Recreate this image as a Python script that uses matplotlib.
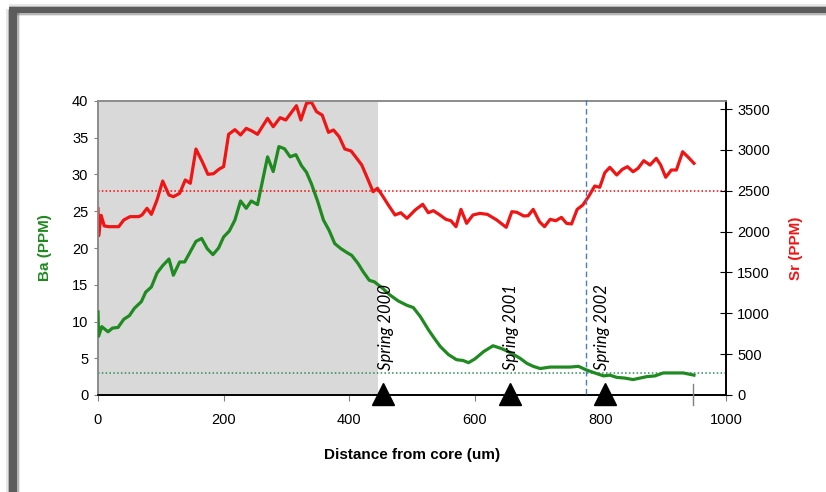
import matplotlib
matplotlib.use("Agg")
import matplotlib.pyplot as plt
from matplotlib.lines import Line2D

# Ba / Sr transect
ba_dist = [0, 1, 6, 16, 23, 32, 41, 50, 58, 69, 76, 85, 94, 103, 113, 120, 130, 138,
           147, 156, 165, 174, 183, 192, 200, 209, 218, 227, 236, 244, 254, 270, 279,
           288, 297, 306, 315, 324, 332, 340, 350, 359, 368, 377, 387, 396, 404, 414,
           422, 432, 440, 452, 465, 478, 492, 502, 513, 526, 534, 545, 558, 571, 581,
           590, 600, 614, 629, 643, 656, 672, 683, 693, 704, 720, 735, 752, 765, 778,
           791, 805, 815, 826, 839, 852, 863, 874, 887, 900, 916, 932, 949]
ba_ppm = [11.3, 8.0, 9.3, 8.6, 9.1, 9.2, 10.3, 10.8, 11.8, 12.7, 14.0, 14.7, 16.6, 17.6,
          18.5, 16.3, 18.1, 18.1, 19.5, 20.9, 21.3, 19.9, 19.1, 20.0, 21.5, 22.3, 23.8,
          26.4, 25.4, 26.4, 25.9, 32.4, 30.4, 33.8, 33.5, 32.4, 32.7, 31.2, 30.3, 28.7,
          26.3, 23.8, 22.4, 20.6, 19.9, 19.4, 19.0, 17.9, 16.8, 15.6, 15.4, 14.6, 13.6,
          12.8, 12.2, 11.9, 10.7, 8.9, 7.9, 6.6, 5.5, 4.8, 4.7, 4.4, 4.9, 5.9, 6.7, 6.3,
          5.8, 5.0, 4.3, 3.9, 3.6, 3.8, 3.8, 3.8, 3.9, 3.4, 3.0, 2.6, 2.7, 2.4, 2.3, 2.1,
          2.3, 2.5, 2.6, 3.0, 3.0, 3.0, 2.7]

sr_dist = [0, 1, 5, 10, 17, 33, 41, 51, 65, 70, 78, 85, 94, 103, 113, 120, 130, 139,
           147, 156, 166, 175, 184, 193, 200, 208, 218, 227, 236, 245, 254, 270, 279,
           290, 299, 316, 323, 332, 340, 348, 357, 367, 375, 384, 393, 403, 412, 420,
           428, 438, 445, 454, 462, 473, 482, 492, 505, 517, 526, 534, 543, 554, 562,
           570, 578, 587, 597, 608, 620, 635, 650, 659, 667, 678, 685, 693, 703, 711,
           720, 729, 738, 746, 754, 763, 772, 781, 791, 799, 807, 815, 826, 835, 843,
           852, 860, 869, 879, 889, 896, 904, 913, 921, 931, 940, 949]
sr_ppm = [2280, 1950, 2200, 2070, 2061, 2061, 2143, 2184, 2184, 2204, 2286, 2212, 2388,
          2620, 2449, 2428, 2469, 2633, 2592, 3012, 2857, 2702, 2710, 2767, 2796, 3192,
          3249, 3184, 3265, 3233, 3192, 3388, 3285, 3396, 3367, 3543, 3367, 3572, 3584,
          3469, 3428, 3216, 3245, 3163, 3012, 2988, 2898, 2816, 2673, 2489, 2531, 2428,
          2330, 2204, 2232, 2163, 2265, 2335, 2232, 2257, 2212, 2151, 2134, 2061, 2273,
          2102, 2204, 2224, 2212, 2143, 2053, 2245, 2237, 2192, 2196, 2273, 2122, 2061,
          2151, 2134, 2175, 2102, 2094, 2273, 2326, 2428, 2559, 2543, 2722, 2788, 2694,
          2763, 2796, 2734, 2776, 2869, 2816, 2898, 2816, 2666, 2755, 2755, 2979, 2910,
          2837]

spring_labels = ["Spring 2000", "Spring 2001", "Spring 2002"]
spring_label_x = [459, 658, 802]
spring_marks = [454, 656, 807]
core_zone_end = 446
ba_background = 3
sr_background = 2500
boundary_x = 777
last_sample = 947

GREEN = "#1f8a1f"
RED = "#f01515"
plt.rcParams["font.family"] = ["Liberation Sans", "DejaVu Sans"]

fig = plt.figure(figsize=(8.26, 4.92), dpi=100)
W, H = 826, 492

# shadowed frame around the chart (only left and top edges are visible)
for lw, alpha in [(14, 0.15), (11, 0.35), (8, 1.0)]:
    fig.add_artist(Line2D([12.5 / W, 12.5 / W], [-0.1, (H - 9) / H], transform=fig.transFigure,
                          color="#5c5c5c", lw=lw * 0.72, alpha=alpha, solid_capstyle="butt"))
    fig.add_artist(Line2D([8.5 / W, 1.1], [(H - 10) / H, (H - 10) / H], transform=fig.transFigure,
                          color="#5c5c5c", lw=(lw - 2) * 0.72, alpha=alpha, solid_capstyle="butt"))

ax = fig.add_axes([98 / W, 97 / H, 628 / W, 294 / H])
ax2 = ax.twinx()
ax.set_zorder(ax2.get_zorder() + 1)
ax.patch.set_visible(False)

# shading + Sr live on the lower axes, Ba and the markers on top
ax2.axvspan(0, core_zone_end, color="#d9d9d9", lw=0, zorder=0)
ax2.axhline(sr_background, color="#ff0000", ls=(0, (1, 1.5)), lw=1.1, zorder=1)
ax2.plot(sr_dist, sr_ppm, color=RED, lw=2.3, zorder=3)

ax.axhline(ba_background, color="#2e8b57", ls=(0, (1, 1.5)), lw=1.1, zorder=1)
ax.plot(ba_dist, ba_ppm, color=GREEN, lw=2.3, zorder=3)
ax.plot([boundary_x, boundary_x], [0.2, 40.4], color="#4a7ebb", ls=(0, (4, 2.5)), lw=1,
        clip_on=False, zorder=4)
ax.plot([last_sample, last_sample], [-1.3, 1.5], color="#808080", lw=1, clip_on=False, zorder=4)
ax.plot(spring_marks, [0.1] * len(spring_marks), ls="none", marker="^", ms=16, color="black",
        clip_on=False, zorder=6)

for label, x in zip(spring_labels, spring_label_x):
    ax.text(x, 3.4, label, rotation=90, ha="center", va="bottom", fontsize=12,
            style="italic", family=["Lato", "DejaVu Sans"], zorder=5)

ax.set_xlim(0, 1000)
ax.set_ylim(0, 40)
ax2.set_ylim(0, 3600)
ax.set_xticks(range(0, 1001, 200))
ax.set_yticks(range(0, 41, 5))
ax2.set_yticks(range(0, 3501, 500))

for a in (ax, ax2):
    a.spines["top"].set_color("#8c8c8c")
    a.spines["left"].set_color("#8c8c8c")
    a.spines["bottom"].set_color("black")
    a.spines["right"].set_color("black")
    for s in a.spines.values():
        s.set_linewidth(1.2)

ax.tick_params(axis="x", direction="out", length=4, color="#808080", labelsize=10.5, pad=9)
ax.tick_params(axis="y", direction="out", length=3, color="#808080", labelsize=10.5, pad=4)
ax2.tick_params(axis="y", direction="inout", length=8, color="black", labelsize=10.5, pad=4)

ax.set_xlabel("Distance from core (um)", fontsize=11, fontweight="bold", labelpad=15)
ax.set_ylabel("Ba (PPM)", fontsize=11, fontweight="bold", color=GREEN, labelpad=14)
ax2.set_ylabel("Sr (PPM)", fontsize=11, fontweight="bold", color=RED, labelpad=14)

fig.savefig("out.png", dpi=100)
